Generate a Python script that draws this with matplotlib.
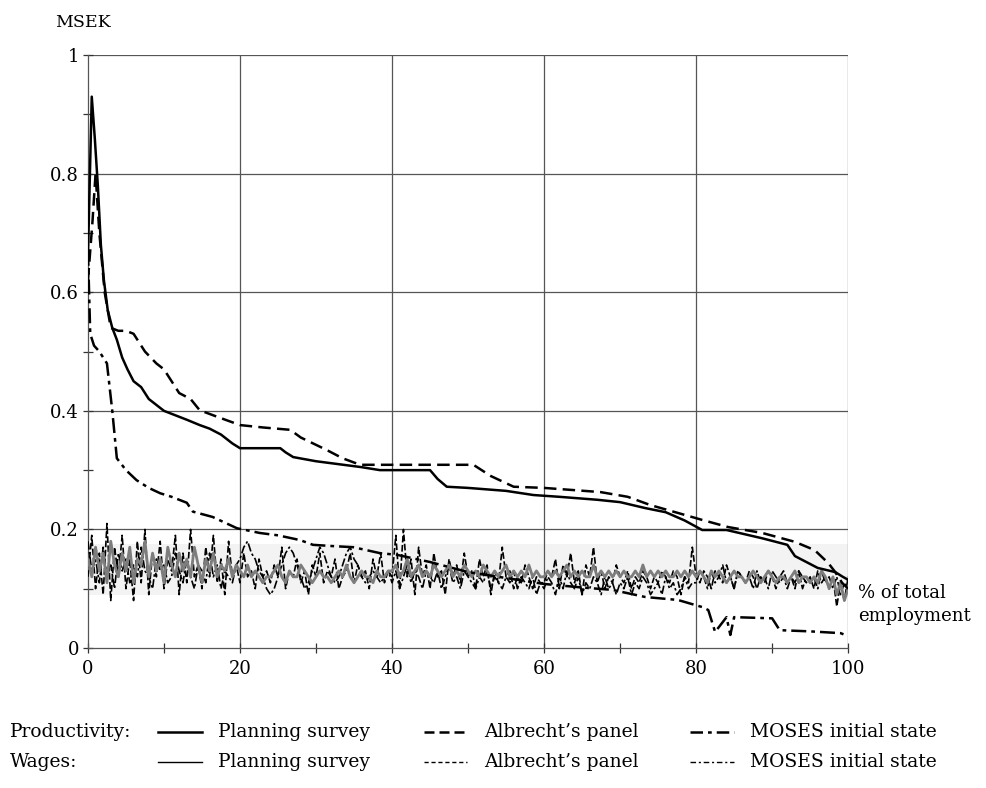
import numpy as np
import matplotlib
matplotlib.use("Agg")
import matplotlib.pyplot as plt
from matplotlib.lines import Line2D

plt.rcParams["font.family"] = ["DejaVu Serif"]

# Productivity, sorted descending (x = % of total employment, y = MSEK)
plan_x = [0, 0.5, 0.9, 1.3, 1.7, 2.1, 2.6, 3.2, 3.8, 4.5, 5.2, 6, 7, 8, 9, 10, 11, 12, 13, 14.7, 16,
          17.5, 19, 20, 25.3, 26, 27, 30, 33, 36, 38.4, 45, 46, 47.2, 50, 55, 58.6, 62, 67, 70, 73.3,
          76, 78.5, 80.8, 84, 88.7, 92, 93, 94.5, 96, 98.3, 99.3, 100]
plan_y = [0.66, 0.93, 0.86, 0.78, 0.68, 0.62, 0.57, 0.54, 0.52, 0.49, 0.47, 0.45, 0.44, 0.42, 0.41,
          0.40, 0.395, 0.39, 0.385, 0.376, 0.37, 0.36, 0.345, 0.337, 0.337, 0.33, 0.322, 0.315, 0.31,
          0.305, 0.30, 0.30, 0.285, 0.272, 0.27, 0.265, 0.258, 0.255, 0.25, 0.246, 0.236, 0.229, 0.215,
          0.199, 0.199, 0.185, 0.174, 0.155, 0.145, 0.135, 0.128, 0.12, 0.115]

alb_x = [0, 0.6, 1.0, 1.5, 2.2, 3, 4, 5, 6, 7.5, 9, 10, 11, 12, 13.5, 14.7, 17, 20, 23, 26.6, 28,
         31.4, 33.5, 35.8, 40, 45, 50.7, 53, 56, 60, 67.4, 71, 74, 77, 80.8, 84.2, 88.7, 93, 95.6,
         97.4, 98.3, 99.2, 100]
alb_y = [0.62, 0.72, 0.80, 0.70, 0.60, 0.54, 0.535, 0.535, 0.53, 0.50, 0.48, 0.47, 0.45, 0.43,
         0.42, 0.401, 0.39, 0.376, 0.372, 0.368, 0.355, 0.334, 0.32, 0.309, 0.309, 0.309, 0.309,
         0.29, 0.272, 0.27, 0.263, 0.255, 0.241, 0.23, 0.216, 0.204, 0.194, 0.179, 0.165, 0.143,
         0.128, 0.11, 0.10]

moses_x = [0, 0.3, 0.8, 1.5, 2.5, 3.2, 3.8, 5, 6.4, 8, 9.5, 11, 13, 13.8, 16.4, 19.6, 22.6, 25,
           27.9, 29.6, 32, 34.9, 38.4, 40.7, 45, 50, 55, 60, 65, 69, 73.3, 77.6, 80.8, 81.6, 82.5,
           84, 84.5, 85, 90, 91, 95, 99, 100]
moses_y = [0.67, 0.53, 0.51, 0.50, 0.48, 0.40, 0.32, 0.30, 0.283, 0.27, 0.261, 0.255, 0.245, 0.23,
           0.221, 0.202, 0.194, 0.19, 0.182, 0.174, 0.172, 0.17, 0.16, 0.157, 0.145, 0.128, 0.118,
           0.108, 0.102, 0.098, 0.086, 0.081, 0.069, 0.064, 0.027, 0.052, 0.022, 0.052, 0.05, 0.03,
           0.028, 0.025, 0.02]

# Wages, in the same firm order (x = 0, 0.5, ..., 100)
wage_x = [i * 0.5 for i in range(201)]
wage_plan = [
    0.15, 0.12, 0.17, 0.13, 0.16, 0.11, 0.18, 0.14, 0.12, 0.16, 0.13, 0.17, 0.11, 0.15, 0.14, 0.18, 0.12, 0.16, 0.13, 0.15,
    0.11, 0.17, 0.14, 0.12, 0.16, 0.13, 0.15, 0.12, 0.17, 0.14, 0.11, 0.15, 0.13, 0.16, 0.12, 0.14, 0.13, 0.15, 0.12, 0.14,
    0.13, 0.12, 0.14, 0.12, 0.13, 0.12, 0.11, 0.12, 0.12, 0.13, 0.14, 0.12, 0.11, 0.13, 0.12, 0.12, 0.14, 0.13, 0.12, 0.11,
    0.12, 0.13, 0.12, 0.12, 0.11, 0.12, 0.13, 0.12, 0.14, 0.12, 0.11, 0.12, 0.13, 0.12, 0.12, 0.11, 0.13, 0.12, 0.12, 0.13,
    0.13, 0.14, 0.12, 0.13, 0.15, 0.12, 0.13, 0.14, 0.12, 0.13, 0.12, 0.14, 0.13, 0.12, 0.13, 0.14, 0.12, 0.13, 0.12, 0.14,
    0.13, 0.12, 0.13, 0.12, 0.14, 0.13, 0.12, 0.13, 0.12, 0.13, 0.14, 0.12, 0.13, 0.12, 0.13, 0.12, 0.14, 0.12, 0.13, 0.12,
    0.12, 0.13, 0.12, 0.13, 0.12, 0.13, 0.14, 0.12, 0.13, 0.12, 0.13, 0.12, 0.12, 0.14, 0.12, 0.13, 0.12, 0.13, 0.12, 0.13,
    0.12, 0.13, 0.12, 0.12, 0.13, 0.12, 0.14, 0.12, 0.13, 0.12, 0.13, 0.12, 0.13, 0.12, 0.12, 0.13, 0.12, 0.13, 0.12, 0.13,
    0.12, 0.13, 0.12, 0.11, 0.13, 0.12, 0.13, 0.12, 0.11, 0.12, 0.13, 0.12, 0.12, 0.11, 0.12, 0.13, 0.12, 0.11, 0.12, 0.13,
    0.12, 0.11, 0.12, 0.12, 0.11, 0.12, 0.13, 0.11, 0.12, 0.12, 0.11, 0.12, 0.11, 0.13, 0.12, 0.10, 0.12, 0.09, 0.11, 0.08,
    0.10]
wage_alb = [
    0.12, 0.19, 0.10, 0.16, 0.09, 0.21, 0.08, 0.17, 0.12, 0.19, 0.10, 0.15, 0.08, 0.18, 0.11, 0.20, 0.09, 0.16, 0.12, 0.18,
    0.10, 0.15, 0.13, 0.19, 0.09, 0.16, 0.11, 0.20, 0.12, 0.14, 0.10, 0.17, 0.12, 0.19, 0.11, 0.15, 0.09, 0.18, 0.12, 0.14,
    0.11, 0.16, 0.12, 0.13, 0.10, 0.15, 0.12, 0.13, 0.11, 0.14, 0.12, 0.17, 0.10, 0.13, 0.12, 0.15, 0.11, 0.13, 0.09, 0.14,
    0.12, 0.16, 0.11, 0.13, 0.12, 0.15, 0.10, 0.12, 0.13, 0.16, 0.11, 0.14, 0.12, 0.13, 0.10, 0.15, 0.12, 0.16, 0.11, 0.13,
    0.12, 0.19, 0.10, 0.20, 0.12, 0.15, 0.09, 0.17, 0.12, 0.14, 0.10, 0.16, 0.12, 0.13, 0.09, 0.15, 0.12, 0.14, 0.11, 0.16,
    0.12, 0.13, 0.10, 0.15, 0.12, 0.14, 0.09, 0.13, 0.11, 0.17, 0.12, 0.13, 0.10, 0.12, 0.11, 0.14, 0.12, 0.10, 0.12, 0.11,
    0.11, 0.13, 0.12, 0.15, 0.10, 0.14, 0.12, 0.16, 0.11, 0.13, 0.09, 0.14, 0.12, 0.17, 0.11, 0.13, 0.10, 0.12, 0.11, 0.14,
    0.12, 0.11, 0.13, 0.10, 0.12, 0.11, 0.13, 0.12, 0.10, 0.12, 0.11, 0.13, 0.12, 0.11, 0.13, 0.12, 0.09, 0.12, 0.11, 0.17,
    0.12, 0.11, 0.13, 0.12, 0.10, 0.13, 0.12, 0.11, 0.14, 0.12, 0.10, 0.13, 0.12, 0.11, 0.13, 0.12, 0.10, 0.12, 0.11, 0.13,
    0.12, 0.10, 0.12, 0.13, 0.11, 0.12, 0.10, 0.13, 0.12, 0.11, 0.12, 0.10, 0.13, 0.11, 0.12, 0.10, 0.12, 0.07, 0.11, 0.08,
    0.12]
wage_moses = [
    0.18, 0.13, 0.15, 0.11, 0.17, 0.12, 0.14, 0.10, 0.16, 0.13, 0.15, 0.11, 0.14, 0.12, 0.17, 0.13, 0.12, 0.10, 0.15, 0.13,
    0.14, 0.11, 0.12, 0.16, 0.13, 0.11, 0.15, 0.12, 0.10, 0.14, 0.13, 0.11, 0.16, 0.12, 0.14, 0.10, 0.13, 0.12, 0.11, 0.14,
    0.15, 0.17, 0.18, 0.16, 0.15, 0.13, 0.12, 0.10, 0.09, 0.10, 0.12, 0.14, 0.16, 0.17, 0.16, 0.14, 0.12, 0.10, 0.11, 0.13,
    0.15, 0.17, 0.16, 0.14, 0.12, 0.11, 0.12, 0.14, 0.16, 0.17, 0.15, 0.14, 0.12, 0.11, 0.12, 0.13, 0.12, 0.11, 0.12, 0.13,
    0.11, 0.13, 0.10, 0.12, 0.14, 0.11, 0.13, 0.12, 0.10, 0.13, 0.12, 0.11, 0.13, 0.10, 0.12, 0.14, 0.11, 0.12, 0.10, 0.13,
    0.12, 0.11, 0.10, 0.12, 0.11, 0.13, 0.10, 0.12, 0.11, 0.10, 0.12, 0.11, 0.13, 0.10, 0.12, 0.11, 0.10, 0.12, 0.09, 0.11,
    0.10, 0.12, 0.11, 0.09, 0.12, 0.10, 0.13, 0.11, 0.10, 0.12, 0.09, 0.11, 0.10, 0.12, 0.11, 0.09, 0.12, 0.10, 0.11, 0.09,
    0.11, 0.10, 0.12, 0.09, 0.11, 0.10, 0.12, 0.11, 0.09, 0.10, 0.11, 0.09, 0.12, 0.10, 0.11, 0.09, 0.10, 0.12, 0.10, 0.11,
    0.11, 0.13, 0.12, 0.10, 0.13, 0.11, 0.12, 0.14, 0.11, 0.12, 0.10, 0.13, 0.12, 0.11, 0.12, 0.10, 0.13, 0.11, 0.12, 0.10,
    0.13, 0.12, 0.11, 0.12, 0.10, 0.12, 0.11, 0.13, 0.10, 0.12, 0.11, 0.12, 0.10, 0.13, 0.11, 0.12, 0.10, 0.12, 0.09, 0.11,
    0.10]

x_ticks = [0, 20, 40, 60, 80, 100]
y_ticks = [0, 0.2, 0.4, 0.6, 0.8, 1.0]
y_labels = ["0", "0.2", "0.4", "0.6", "0.8", "1"]

fig = plt.figure(figsize=(9.86, 7.88), dpi=100)
ax = fig.add_axes([0.0892, 0.1777, 0.771, 0.7523])

grid_c = "#555555"
for v in x_ticks[1:]:
    ax.axvline(v, color=grid_c, lw=0.9, zorder=1)
for v in y_ticks[1:]:
    ax.axhline(v, color=grid_c, lw=0.9, zorder=1)
ax.axhspan(0.09, 0.175, color="#f3f3f3", zorder=0, lw=0)

# wages (thin, jagged)
ax.plot(wage_x, wage_alb, color="black", lw=1.2, ls=(0, (4, 1.5)), zorder=3)
ax.plot(wage_x, wage_moses, color="black", lw=1.2, ls=(0, (5, 1.5, 1.5, 1.5)), zorder=3)
ax.plot(wage_x, wage_plan, color="#7d7d7d", lw=2.0, zorder=4)

# productivity (thick)
ax.plot(plan_x, plan_y, color="black", lw=1.8, zorder=5)
ax.plot(alb_x, alb_y, color="black", lw=1.8, ls=(0, (5, 2.5)), zorder=5)
ax.plot(moses_x, moses_y, color="black", lw=1.8, ls=(0, (6, 2, 1.5, 2)), zorder=5)

ax.set_xlim(0, 100)
ax.set_ylim(0, 1)
ax.set_xticks(x_ticks)
ax.set_yticks(y_ticks, y_labels)
ax.set_xticks([10, 30, 50, 70, 90], minor=True)
ax.set_yticks([0.1, 0.3, 0.5, 0.7, 0.9], minor=True)
ax.tick_params(axis="both", which="both", direction="inout", length=7, width=0.9, colors="#333333",
               labelsize=13, labelcolor="black")
ax.tick_params(axis="x", pad=5)
ax.tick_params(axis="y", pad=3)
for s in ["top", "right"]:
    ax.spines[s].set_visible(False)
for s in ["left", "bottom"]:
    ax.spines[s].set_color(grid_c)
    ax.spines[s].set_linewidth(0.9)

fig.text(0.056, 0.972, "MSEK", fontsize=12.5, va="center", ha="left")
fig.text(0.870, 0.233, "% of total\nemployment", fontsize=13, va="center", ha="left", linespacing=1.4)

# legend rows
rows = [("Productivity:", 0.071, 1.8, ("-", (0, (4, 2)), (0, (5, 2, 1.5, 2)))),
        ("Wages:", 0.033, 1.0, ("-", (0, (3, 2)), (0, (4, 2, 1.5, 2))))]
names = ["Planning survey", "Albrecht\u2019s panel", "MOSES initial state"]
line_x = [(0.160, 0.205), (0.430, 0.474), (0.700, 0.744)]
text_x = [0.221, 0.491, 0.761]
for label, yy, lw, styles in rows:
    fig.text(0.010, yy, label, fontsize=13.5, va="center", ha="left")
    for (x0, x1), tx, name, st in zip(line_x, text_x, names, styles):
        fig.add_artist(Line2D([x0, x1], [yy, yy], color="black", lw=lw, ls=st, transform=fig.transFigure))
        fig.text(tx, yy, name, fontsize=13.5, va="center", ha="left")

fig.savefig("out.png", dpi=100)
